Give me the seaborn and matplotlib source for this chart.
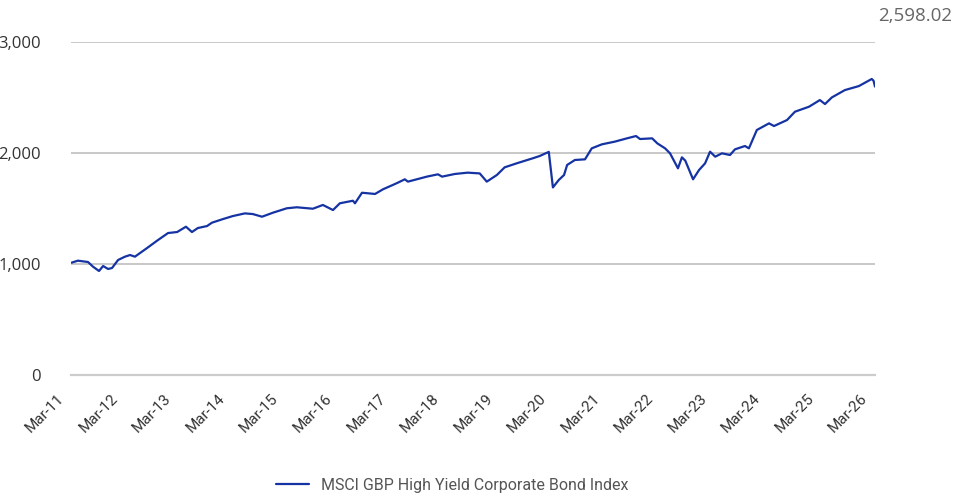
import matplotlib
matplotlib.use("Agg")
import matplotlib.pyplot as plt
import matplotlib.transforms as mtransforms
import seaborn as sns
import pandas as pd

series_name = "MSCI GBP High Yield Corporate Bond Index"
dates = [
    "2011-03-24", "2011-05-06", "2011-07-14", "2011-08-17", "2011-09-27", "2011-10-25",
    "2011-11-28", "2011-12-25", "2012-02-04", "2012-03-22", "2012-04-26", "2012-05-29",
    "2012-08-20", "2012-10-27", "2013-01-10", "2013-03-13", "2013-05-12", "2013-06-22",
    "2013-08-01", "2013-10-03", "2013-11-05", "2014-01-20", "2014-03-28", "2014-06-18",
    "2014-08-11", "2014-10-13", "2014-12-26", "2015-03-31", "2015-06-07", "2015-09-25",
    "2015-12-02", "2016-02-09", "2016-03-27", "2016-06-24", "2016-07-08", "2016-08-25",
    "2016-11-22", "2017-01-15", "2017-03-23", "2017-04-27", "2017-06-13", "2017-07-04",
    "2017-11-10", "2018-01-25", "2018-02-22", "2018-05-20", "2018-08-16", "2018-11-06",
    "2018-12-24", "2019-03-03", "2019-04-25", "2019-07-16", "2019-11-02", "2019-12-20",
    "2020-02-20", "2020-03-19", "2020-04-28", "2020-06-03", "2020-06-24", "2020-08-16",
    "2020-10-24", "2020-12-09", "2021-02-16", "2021-05-14", "2021-08-06", "2021-10-07",
    "2021-11-03", "2022-01-25", "2022-03-01", "2022-04-23", "2022-05-27", "2022-07-20",
    "2022-08-16", "2022-09-08", "2022-10-31", "2022-12-11", "2023-01-21", "2023-02-24",
    "2023-03-31", "2023-05-16", "2023-07-10", "2023-08-13", "2023-10-20", "2023-11-16",
    "2024-01-09", "2024-04-01", "2024-05-05", "2024-08-02", "2024-09-25", "2024-12-30",
    "2025-03-14", "2025-04-18", "2025-06-04", "2025-09-01", "2025-12-05", "2026-03-03",
    "2026-03-15", "2026-03-25",
]
values = [
    1012, 1030, 1018, 976, 937, 982,
    955, 964, 1036, 1066, 1081, 1066,
    1144, 1210, 1279, 1288, 1336, 1288,
    1324, 1342, 1372, 1405, 1432, 1456,
    1450, 1426, 1462, 1502, 1511, 1498,
    1532, 1486, 1547, 1570, 1547, 1642,
    1631, 1673, 1712, 1733, 1763, 1742,
    1787, 1808, 1787, 1811, 1823, 1816,
    1742, 1802, 1871, 1907, 1952, 1973,
    2010, 1690, 1757, 1802, 1892, 1937,
    1943, 2042, 2078, 2102, 2132, 2153,
    2126, 2132, 2087, 2042, 1997, 1862,
    1961, 1931, 1763, 1847, 1907, 2012,
    1967, 1997, 1982, 2033, 2063, 2042,
    2207, 2267, 2243, 2297, 2372, 2417,
    2477, 2441, 2501, 2567, 2603, 2667,
    2651, 2598.02,
]
y_ticks = [0, 1000, 2000, 3000]
y_tick_labels = ["0", "1,000", "2,000", "3,000"]
x_tick_years = list(range(2011, 2027))
x_tick_labels = [f"Mar-{y % 100:02d}" for y in x_tick_years]
last_label = "2,598.02"

df = pd.DataFrame({"date": pd.to_datetime(dates), "value": values, "series": series_name})

sns.set_style("white")
plt.rcParams["font.family"] = ["Roboto", "DejaVu Sans"]

fig = plt.figure(figsize=(9.6, 4.98), dpi=100)
ax = fig.add_axes([71 / 960, 1 - 375 / 498, (875 - 71) / 960, (375 - 42) / 498])

sns.lineplot(data=df, x="date", y="value", hue="series", palette=["#1533a3"],
             linewidth=1.6, ax=ax, legend=False)

ax.set_xlim(pd.Timestamp("2011-03-20"), pd.Timestamp("2026-03-25"))
ax.set_ylim(0, 3000)

ax.set_yticks(y_ticks)
ax.set_yticklabels(y_tick_labels, family=["Open Sans", "DejaVu Sans"], fontsize=12, color="#333333")
ax.tick_params(axis="y", length=0, pad=21.5)

tick_dates = [pd.Timestamp(f"{y}-03-20") for y in x_tick_years]
ax.set_xticks(tick_dates)
ax.set_xticklabels(x_tick_labels, rotation=45, ha="right", va="top", rotation_mode="anchor",
                   fontsize=11, color="#333333")
ax.tick_params(axis="x", length=6, width=1.3, color="#cccccc", pad=3)
offset = mtransforms.ScaledTranslation(-14 / 100, -4 / 100, fig.dpi_scale_trans)
for lbl in ax.get_xticklabels():
    lbl.set_transform(lbl.get_transform() + offset)

ax.grid(axis="y", color="#c8c8c8", linewidth=1.4)
ax.grid(axis="x", visible=False)
for s in ["top", "right", "left"]:
    ax.spines[s].set_visible(False)
ax.spines["bottom"].set_color("#cccccc")
ax.spines["bottom"].set_linewidth(1.6)
ax.set_xlabel("")
ax.set_ylabel("")

fig.text(878 / 960, 1 - 16 / 498, last_label, family=["Open Sans", "DejaVu Sans"],
         fontsize=13.5, color="#666666", ha="left", va="center")

handle = plt.Line2D([], [], color="#1533a3", linewidth=1.6)
fig.legend([handle], [series_name], loc="center", bbox_to_anchor=(452 / 960, 1 - 485 / 498),
           frameon=False, fontsize=11.5, labelcolor="#555555", handlelength=2.1, handletextpad=0.7)

fig.savefig("out.png", dpi=100)
